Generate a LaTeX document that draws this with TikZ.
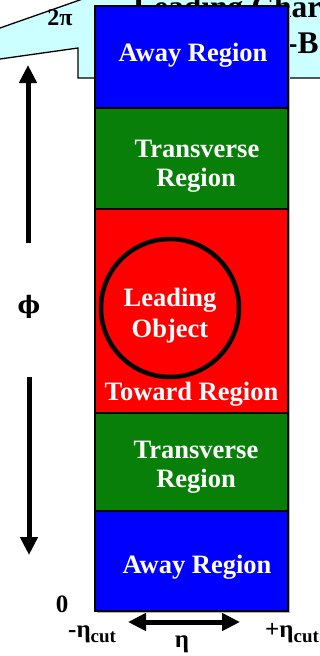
\documentclass[tikz,border=0pt]{standalone}
\usepackage{fontspec}
\setmainfont{Liberation Serif}
\newfontfamily\phifamily{DejaVu Serif}
\usetikzlibrary{arrows.meta}
\definecolor{cyanbg}{HTML}{CCFFFF}
\definecolor{regblue}{HTML}{0000FF}
\definecolor{reggreen}{HTML}{087F08}
\definecolor{regred}{HTML}{FF0000}
\begin{document}
\begin{tikzpicture}[x=1pt,y=-1pt,
  region/.style={draw=black, line width=1.6pt, minimum width=193pt, inner sep=0pt, anchor=north west},
  lbl/.style={text=white, font=\fontsize{26.5}{29}\selectfont\bfseries, inner sep=0pt, anchor=base},
  axlbl/.style={font=\fontsize{25}{29}\selectfont\bfseries, inner sep=0pt},
  headtxt/.style={font=\fontsize{31.5}{36}\selectfont\bfseries, inner sep=0pt, anchor=base west},
  bigarrow/.style={line width=5pt, -{Triangle[length=18pt,width=17pt]}},
  bigdarrow/.style={line width=5pt, {Triangle[length=18pt,width=17pt]}-{Triangle[length=18pt,width=17pt]}}]
\clip (0,0) rectangle (320,656);
% callout background
\fill[cyanbg] (0,28) -- (94,-5) -- (330,-5) -- (330,78) -- (78,78) -- (78,48) -- (0,59) -- cycle;
\draw[line width=1.3pt] (0,28) -- (94,-5);
\draw[line width=1.3pt] (330,78) -- (78,78) -- (78,48) -- (0,59);
\node[headtxt] (head1) at (133,17) {Leading Char};
\node[headtxt] (head2) at (287,53) {-B};
% shadow
\fill[gray!60] (97,8) rectangle (289.5,612.5);
% regions
\node[region, fill=regblue, minimum height=102pt] (awaytop) at (94,5) {};
\node[region, fill=reggreen, minimum height=101pt] (transtop) at (94,107) {};
\node[region, fill=regred, minimum height=204pt] (toward) at (94,208) {};
\node[region, fill=reggreen, minimum height=98pt] (transbot) at (94,412) {};
\node[region, fill=regblue, minimum height=100pt] (awaybot) at (94,510) {};
% leading object
\node[draw=black, line width=4.5pt, circle, minimum size=138pt, inner sep=0pt] (lead) at (170,308) {};
% labels
\node[lbl] (awaytoptxt) at (193,61) {Away Region};
\node[lbl] (transtoptxt1) at (197,157) {Transverse};
\node[lbl] (transtoptxt2) at (196,186) {Region};
\node[lbl] (leadtxt1) at (170,306) {Leading};
\node[lbl] (leadtxt2) at (170,337) {Object};
\node[lbl] (towardtxt) at (191.5,400) {Toward Region};
\node[lbl] (transbottxt1) at (196,458) {Transverse};
\node[lbl] (transbottxt2) at (196,487) {Region};
\node[lbl] (awaybottxt) at (197,573) {Away Region};
% axis labels
\node[axlbl, anchor=base, font=\fontsize{24}{26}\selectfont\bfseries] (twopi) at (60,25) {2π};
\node[axlbl, anchor=base] (zero) at (62,612) {0};
\node[axlbl, font=\fontsize{24}{28}\selectfont\phifamily\bfseries] (phi) at (29,307) {ϕ};
\node[axlbl, anchor=base west] (etamin) at (68,637) {-η\raisebox{-5pt}{\fontsize{19}{20}\selectfont cut}};
\node[axlbl, anchor=base west] (etaplus) at (265,637) {+η\raisebox{-5pt}{\fontsize{19}{20}\selectfont cut}};
\node[axlbl, anchor=base] (eta) at (182,647) {η};
% arrows
\coordinate (phiupstart) at (28,243);
\coordinate (phiupend) at (28,65);
\coordinate (phidownstart) at (29,377);
\coordinate (phidownend) at (29,555);
\coordinate (etaleft) at (128,622);
\coordinate (etaright) at (240,622);
\draw[bigarrow] (phiupstart) -- (phiupend);
\draw[bigarrow] (phidownstart) -- (phidownend);
\draw[bigdarrow] (etaleft) -- (etaright);
\end{tikzpicture}
\end{document}
